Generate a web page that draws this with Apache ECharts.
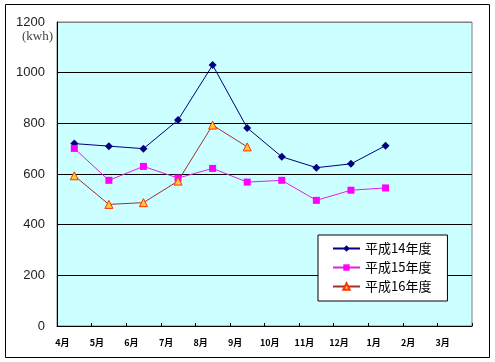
<!DOCTYPE html>
<html>
<head>
<meta charset="utf-8">
<script src="https://cdn.jsdelivr.net/npm/echarts@6/dist/echarts.min.js"></script>
<style>
html,body{margin:0;padding:0;background:#fff;}
#chart{width:495px;height:362px;}
</style>
</head>
<body>
<div id="chart"></div>
<script>
const months = ['4月','5月','6月','7月','8月','9月','10月','11月','12月','1月','2月','3月'];
const yTicks = [0, 200, 400, 600, 800, 1000, 1200];
const seriesNames = ['平成14年度','平成15年度','平成16年度'];
const h14 = [720, 710, 700, 813, 1030, 782, 668, 625, 640, 712, null, null];
const h15 = [701, 575, 630, 584, 622, 568, 575, 496, 536, 545, null, null];
const h16 = [593, 480, 487, 572, 793, 707, null, null, null, null, null, null];

const chart = echarts.init(document.getElementById('chart'), null, {renderer:'canvas'});
chart.setOption({
  animation:false,
  backgroundColor:'#ffffff',
  grid:{left:57, top:22, right:23, bottom:36, show:true, backgroundColor:'#CCFFFF', borderColor:'#808080', borderWidth:1},
  graphic:[
    {type:'rect', shape:{x:5.5, y:4.5, width:484, height:353}, style:{fill:'none', stroke:'#000', lineWidth:1}, z:-1},
    {type:'text', left:22, top:30, style:{text:'(kwh)', font:'13px "Liberation Serif", serif', fill:'#444'}}
  ],
  xAxis:{
    type:'category', data:months, boundaryGap:true,
    axisLine:{lineStyle:{color:'#000', width:1}},
    axisTick:{show:true, inside:true, length:3, lineStyle:{color:'#000'}},
    axisLabel:{color:'#000', fontSize:9, fontWeight:'bold', fontFamily:'"Noto Sans CJK JP", sans-serif', margin:12, padding:[0,24,0,0], interval:0}
  },
  yAxis:{
    type:'value', min:yTicks[0], max:yTicks[yTicks.length-1], interval:200,
    axisLine:{show:true, lineStyle:{color:'#000'}},
    axisTick:{show:false},
    axisLabel:{color:'#222', fontSize:13, fontFamily:'"Liberation Sans", Arial, sans-serif', margin:12, formatter:function(v){return String(v);}},
    splitLine:{show:true, lineStyle:{color:['#000','#000','#000','#000','#000','#000','#808080'], width:1}}
  },
  legend:{
    orient:'vertical', left:318, top:235,
    backgroundColor:'#fff', borderColor:'#000', borderWidth:1,
    padding:[7,16,8,14], itemGap:6, itemWidth:27, itemHeight:8,
    textStyle:{fontSize:13, color:'#000', fontFamily:'"Noto Sans CJK JP", sans-serif'},
    data:seriesNames
  },
  series:[
    {name:seriesNames[0], type:'line', data:h14, symbol:'diamond', symbolSize:8,
     lineStyle:{color:'#000080', width:1}, itemStyle:{color:'#000080'}},
    {name:seriesNames[1], type:'line', data:h15, symbol:'rect', symbolSize:7,
     lineStyle:{color:'#E020E0', width:1}, itemStyle:{color:'#FF00FF'}},
    {name:seriesNames[2], type:'line', data:h16, symbol:'triangle', symbolSize:8,
     lineStyle:{color:'#A03030', width:1}, itemStyle:{color:'#FFCC33', borderColor:'#FF3300', borderWidth:1}}
  ]
});
</script>
</body>
</html>
